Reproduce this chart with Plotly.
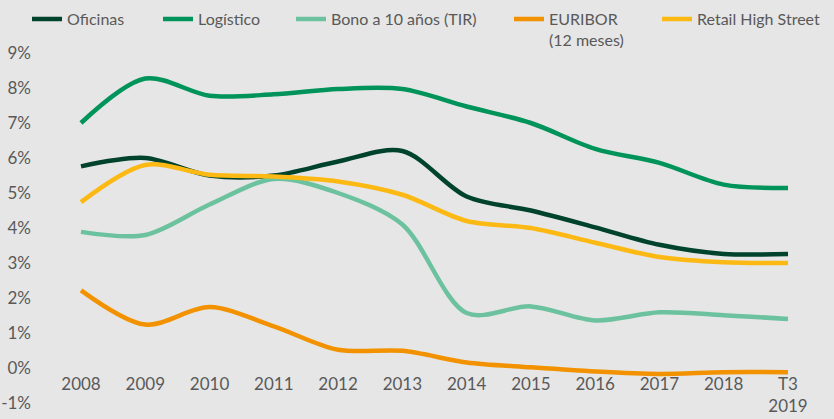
import plotly.graph_objects as go

years = ["2008", "2009", "2010", "2011", "2012", "2013", "2014", "2015", "2016", "2017", "2018", "T3<br>2019"]
oficinas = [5.76, 6.0, 5.5, 5.5, 5.9, 6.2, 4.9, 4.5, 4.02, 3.52, 3.26, 3.26]
logistico = [7.0, 8.27, 7.78, 7.82, 7.97, 7.97, 7.47, 7.0, 6.26, 5.86, 5.24, 5.14]
bono = [3.89, 3.8, 4.67, 5.4, 5.0, 4.1, 1.57, 1.76, 1.36, 1.59, 1.51, 1.4]
euribor = [2.22, 1.24, 1.74, 1.19, 0.52, 0.49, 0.16, 0.02, -0.1, -0.17, -0.12, -0.12]
retail = [4.74, 5.8, 5.52, 5.47, 5.33, 4.95, 4.2, 4.0, 3.58, 3.17, 3.02, 3.0]

y_ticks = list(range(-1, 10))
y_ticktext = [f"{v}%" for v in y_ticks]

series = [
    ("Oficinas", oficinas, "#00432c"),
    ("Logístico", logistico, "#00935a"),
    ("Bono a 10 años (TIR)", bono, "#6cc29e"),
    ("EURIBOR<br>(12 meses)", euribor, "#f39200"),
    ("Retail High Street", retail, "#fdb913"),
]
legend_ids = ["legend", "legend2", "legend3", "legend4", "legend5"]
legend_x_px = [27, 158, 291, 509, 657]

x = list(range(len(years)))
fig = go.Figure()
for (name, vals, col), lid in zip(series, legend_ids):
    fig.add_trace(go.Scatter(x=x, y=vals, name=name, mode="lines", legend=lid,
                             line=dict(color=col, width=4.5, shape="spline", smoothing=0.9)))

FONT = "Lato"
layout_legends = {}
for lid, px in zip(legend_ids, legend_x_px):
    layout_legends[lid] = dict(xref="container", yref="container", x=px / 834, y=0.995,
                               xanchor="left", yanchor="top", bgcolor="rgba(0,0,0,0)",
                               font=dict(size=16, color="#595959"), valign="top")

fig.update_layout(
    width=834, height=419,
    paper_bgcolor="#e6e6e6", plot_bgcolor="#e6e6e6",
    margin=dict(l=38, r=10, t=53, b=16, autoexpand=False),
    font=dict(family=FONT, size=17, color="#595959"),
    showlegend=True,
    xaxis=dict(range=[-0.669, 11.56], tickmode="array", tickvals=x, ticktext=years,
               showgrid=False, zeroline=False, showline=False, ticks="",
               anchor="free", position=0.088, fixedrange=True),
    yaxis=dict(range=[-1, 9], tickmode="array", tickvals=y_ticks, ticktext=y_ticktext,
               showgrid=False, zeroline=False, showline=False, ticks="", fixedrange=True,
               ticklabelstandoff=6),
    **layout_legends,
)
fig.write_html("out.html")
